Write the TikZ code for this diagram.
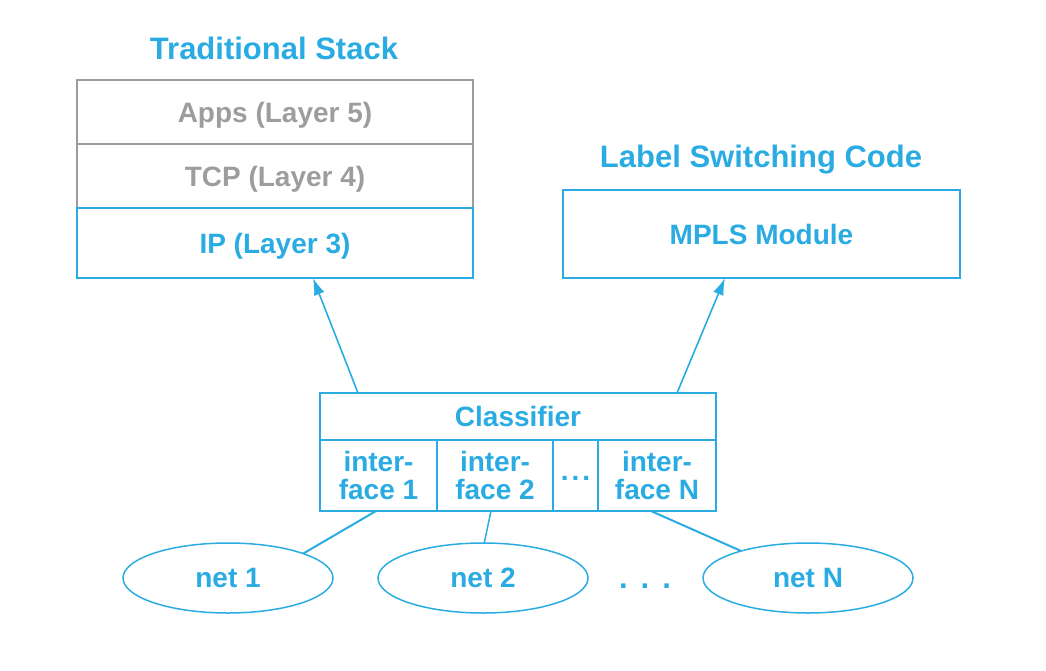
\documentclass[tikz,border=0pt]{standalone}
\usepackage{fontspec}
\setmainfont{Liberation Sans}
\usetikzlibrary{calc,arrows.meta,shapes.geometric}
\definecolor{cblue}{HTML}{2AACE2}
\definecolor{cgray}{HTML}{9D9D9D}
\tikzset{
  base/.style={font=\fontsize{28}{28}\selectfont\bfseries, inner sep=0pt, outer sep=0pt, line width=2pt, align=center},
  graybox/.style={base, draw=cgray, text=cgray, rectangle, minimum width=396pt, text depth=0pt},
  bluebox/.style={base, draw=cblue, text=cblue, rectangle, text depth=0pt},
  title/.style={base, text=cblue, font=\fontsize{31}{31}\selectfont\bfseries},
  netell/.style={base, draw=cblue, text=cblue, ellipse, line width=1.5pt, minimum width=210pt, minimum height=70pt, text depth=0pt},
  conn/.style={draw=cblue, line width=2pt},
  arr/.style={conn, line width=1.6pt, -{Latex[length=17pt,width=11pt]}}
}
\begin{document}
\begin{tikzpicture}[x=1pt,y=-1pt]
\useasboundingbox (0,0) rectangle (1046,670);
\node[title] (t1) at (274,48) {Traditional Stack};
\node[graybox, minimum height=64pt] (apps) at (275,112) {Apps (Layer 5)};
\node[graybox, minimum height=64pt] (tcp) at (275,176) {TCP (Layer 4)};
\node[bluebox, minimum width=396pt, minimum height=70pt] (ip) at (275,243) {IP (Layer 3)};
\node[title] (t2) at (761,160) {Label Switching Code};
\node[bluebox, minimum width=397pt, minimum height=88pt] (mpls) at (761.5,234) {MPLS Module};
\node[bluebox, minimum width=396pt, minimum height=47pt] (cls) at (518,416.5) {Classifier};
\node[bluebox, minimum width=117pt, minimum height=71pt] (if1) at (378.5,475.5) {inter-\\face 1};
\node[bluebox, minimum width=116pt, minimum height=71pt] (if2) at (495,475.5) {inter-\\face 2};
\node[bluebox, minimum width=45pt, minimum height=71pt] (ifd) at (575.5,475.5) {\raisebox{-5pt}{.\kern3pt.\kern3pt.}};
\node[bluebox, minimum width=118pt, minimum height=71pt] (ifn) at (657,475.5) {inter-\\face N};
\node[netell] (n1) at (228,578) {net 1};
\node[netell] (n2) at (483,578) {net 2};
\node[netell] (nn) at (808,578) {net N};
\node[title] (dots) at (645,586) {.\kern13pt.\kern13pt.};
\draw[arr] ($(cls.north west)+(38,0)$) -- ($(ip.south west)+(236,0)$);
\draw[arr] ($(cls.north west)+(357,0)$) -- ($(mpls.south west)+(162,0)$);
\draw[conn] ($(if1.south west)+(56,0)$) -- (n1.18);
\draw[conn, line width=1.5pt] ($(if2.south west)+(54,0)$) -- (n2.88);
\draw[conn] ($(ifn.south west)+(53,0)$) -- (nn.158);
\end{tikzpicture}
\end{document}
